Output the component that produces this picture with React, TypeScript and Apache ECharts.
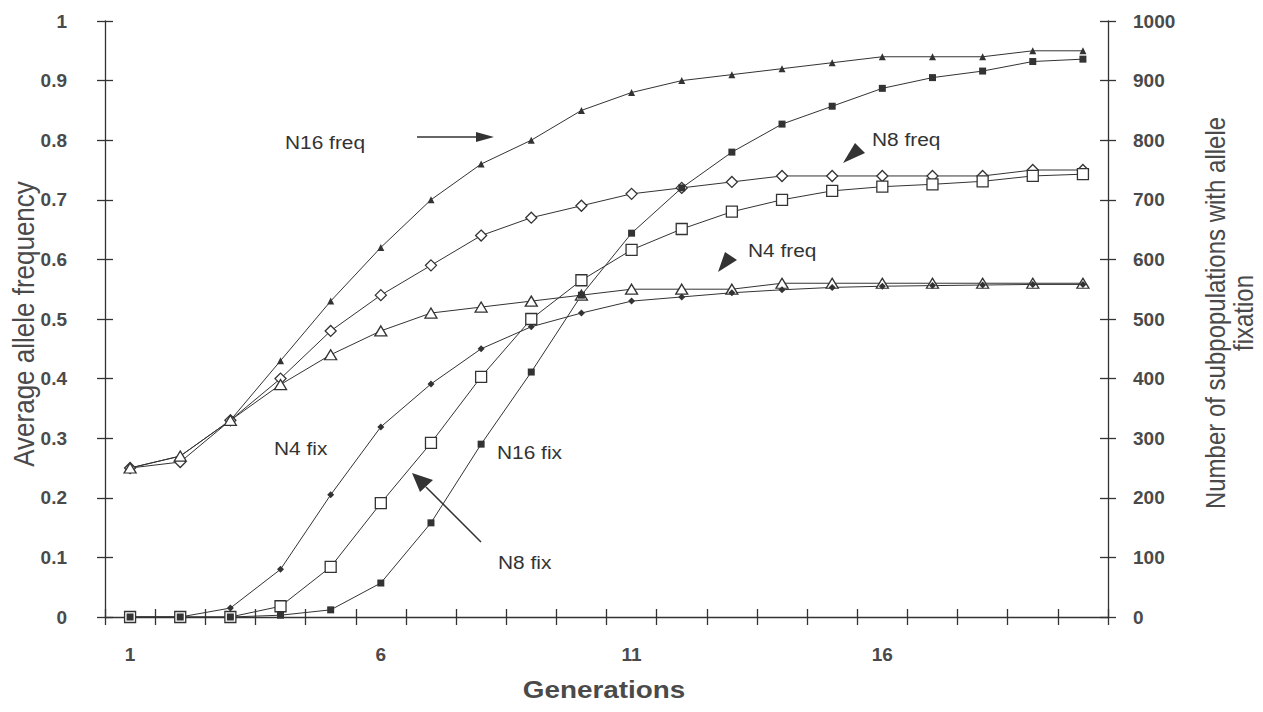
import React, { useEffect, useRef } from "react";
import * as echarts from "echarts";

const generations = ["1","2","3","4","5","6","7","8","9","10","11","12","13","14","15","16","17","18","19","20"];
const n16Freq = [0.25,0.27,0.33,0.43,0.53,0.62,0.70,0.76,0.80,0.85,0.88,0.90,0.91,0.92,0.93,0.94,0.94,0.94,0.95,0.95];
const n8Freq = [0.25,0.26,0.33,0.40,0.48,0.54,0.59,0.64,0.67,0.69,0.71,0.72,0.73,0.74,0.74,0.74,0.74,0.74,0.75,0.75];
const n4Freq = [0.25,0.27,0.33,0.39,0.44,0.48,0.51,0.52,0.53,0.54,0.55,0.55,0.55,0.56,0.56,0.56,0.56,0.56,0.56,0.56];
const n4Fix = [0,0,15,80,205,319,391,450,487,510,530,537,544,549,553,555,556,557,558,558];
const n8Fix = [0,0,0,18,84,191,292,403,500,565,616,651,680,700,715,722,726,731,740,743];
const n16Fix = [0,0,0,3,12,57,158,290,411,540,644,720,780,827,857,887,905,916,932,936];

const INK = "#333";
const LABEL = "#4a4a4a";
const FONT = "'Liberation Sans', Arial, Helvetica, sans-serif";
const STRETCH = 1.16;

export default function App() {
  const ref = useRef<HTMLDivElement>(null);
  useEffect(() => {
    if (!ref.current) return;
    const chart = echarts.init(ref.current, null, { renderer: "svg" });
    const lineStyle = { color: INK, width: 1 };
    const mk = (name: string, data: number[], yIdx: number, symbol: string, size: any, filled: boolean) => ({
      name,
      type: "line",
      data,
      xAxisIndex: 0,
      yAxisIndex: yIdx,
      symbol,
      symbolSize: size,
      showAllSymbol: true,
      lineStyle,
      itemStyle: { color: filled ? INK : "#fff", borderColor: INK, borderWidth: filled ? 0 : 1.3 },
      emphasis: { disabled: true },
      z: 3,
    });
    const ghost = (data: number[], yIdx: number) => ({
      type: "line",
      data,
      xAxisIndex: 1,
      yAxisIndex: yIdx,
      symbol: "none",
      silent: true,
      lineStyle: { opacity: 0, width: 0 },
      emphasis: { disabled: true },
    });
    const tickStyle = { color: INK, width: 1.3 };
    const gridRect = { left: 105, right: 155, top: 21, bottom: 95, containLabel: false };
    const annot = (text: string, x: number, y: number) => ({
      type: "text",
      x,
      y,
      scaleX: STRETCH,
      style: { text, fill: INK, font: `18px ${FONT}`, textAlign: "left", textVerticalAlign: "middle" },
    });
    chart.setOption({
      animation: false,
      backgroundColor: "#fff",
      grid: [gridRect, gridRect],
      xAxis: [
        {
          type: "category", data: generations, boundaryGap: true, position: "bottom", gridIndex: 0,
          axisLine: { show: true, onZero: false, lineStyle: tickStyle },
          axisTick: { show: false },
          axisLabel: { interval: 4, margin: 28, color: LABEL, fontWeight: "bold", fontSize: 19, fontFamily: FONT },
          splitLine: { show: false },
        },
        {
          type: "category", data: generations, boundaryGap: true, position: "bottom", gridIndex: 1, offset: -8,
          axisLine: { show: false, onZero: false },
          axisTick: { show: true, inside: false, length: 16, interval: 0, lineStyle: tickStyle },
          axisLabel: { show: false },
          splitLine: { show: false },
        },
      ],
      yAxis: [
        {
          type: "value", position: "left", min: 0, max: 1, interval: 0.1, gridIndex: 0,
          axisLine: { show: true, onZero: false, lineStyle: tickStyle },
          axisTick: { show: false },
          axisLabel: { margin: 38, color: LABEL, fontWeight: "bold", fontSize: 19, fontFamily: FONT },
          splitLine: { show: false },
        },
        {
          type: "value", position: "right", min: 0, max: 1000, interval: 100, gridIndex: 0,
          axisLine: { show: true, onZero: false, lineStyle: tickStyle },
          axisTick: { show: false },
          axisLabel: { margin: 25, color: LABEL, fontWeight: "bold", fontSize: 19, fontFamily: FONT, formatter: (v: number) => String(v) },
          splitLine: { show: false },
        },
        {
          type: "value", position: "left", min: 0, max: 1, interval: 0.1, gridIndex: 1, offset: -8,
          axisLine: { show: false, onZero: false },
          axisTick: { show: true, inside: false, length: 16, lineStyle: tickStyle },
          axisLabel: { show: false },
          splitLine: { show: false },
        },
        {
          type: "value", position: "right", min: 0, max: 1000, interval: 100, gridIndex: 1, offset: -8,
          axisLine: { show: false, onZero: false },
          axisTick: { show: true, inside: false, length: 16, lineStyle: tickStyle },
          axisLabel: { show: false },
          splitLine: { show: false },
        },
      ],
      series: [
        mk("N16 freq", n16Freq, 0, "triangle", 7, true),
        mk("N8 freq", n8Freq, 0, "diamond", 11, false),
        mk("N4 freq", n4Freq, 0, "triangle", [12, 10], false),
        mk("N4 fix", n4Fix, 1, "diamond", 7, true),
        mk("N8 fix", n8Fix, 1, "rect", 11, false),
        mk("N16 fix", n16Fix, 1, "rect", 7, true),
        ghost(n16Freq, 2),
        ghost(n16Fix, 3),
      ],
      graphic: [
        annot("N16 freq", 285, 143),
        annot("N8 freq", 872, 140),
        annot("N4 freq", 748, 251),
        annot("N4 fix", 274, 449),
        annot("N16 fix", 497, 453),
        annot("N8 fix", 498, 563),
        { type: "line", shape: { x1: 417, y1: 137, x2: 478, y2: 137 }, style: { stroke: INK, lineWidth: 1.5 } },
        { type: "polygon", shape: { points: [[476, 132], [494, 137], [476, 142]] }, style: { fill: INK } },
        { type: "polygon", shape: { points: [[843, 163], [855, 143], [865, 153]] }, style: { fill: INK } },
        { type: "polygon", shape: { points: [[718, 272], [725, 252], [737, 260]] }, style: { fill: INK } },
        { type: "line", shape: { x1: 481, y1: 542, x2: 426, y2: 487 }, style: { stroke: INK, lineWidth: 1.5 } },
        { type: "polygon", shape: { points: [[412, 473], [420, 492], [433, 480]] }, style: { fill: INK } },
        {
          type: "text", x: 604, y: 690, scaleX: STRETCH,
          style: { text: "Generations", fill: LABEL, font: `bold 24px ${FONT}`, textAlign: "center", textVerticalAlign: "middle" },
        },
        {
          type: "text", x: 24, y: 324, rotation: Math.PI / 2, scaleY: STRETCH,
          style: { text: "Average allele frequency", fill: LABEL, font: `26px ${FONT}`, textAlign: "center", textVerticalAlign: "middle" },
        },
        {
          type: "text", x: 1229, y: 313, rotation: Math.PI / 2, scaleY: STRETCH,
          style: { text: "Number of subpopulations with allele\nfixation", fill: LABEL, font: `24px ${FONT}`, lineHeight: 24, textAlign: "center", textVerticalAlign: "middle" },
        },
      ],
    });
    return () => chart.dispose();
  }, []);
  return <div ref={ref} style={{ position: "fixed", left: 0, top: 0, width: 1263, height: 712 }} />;
}
